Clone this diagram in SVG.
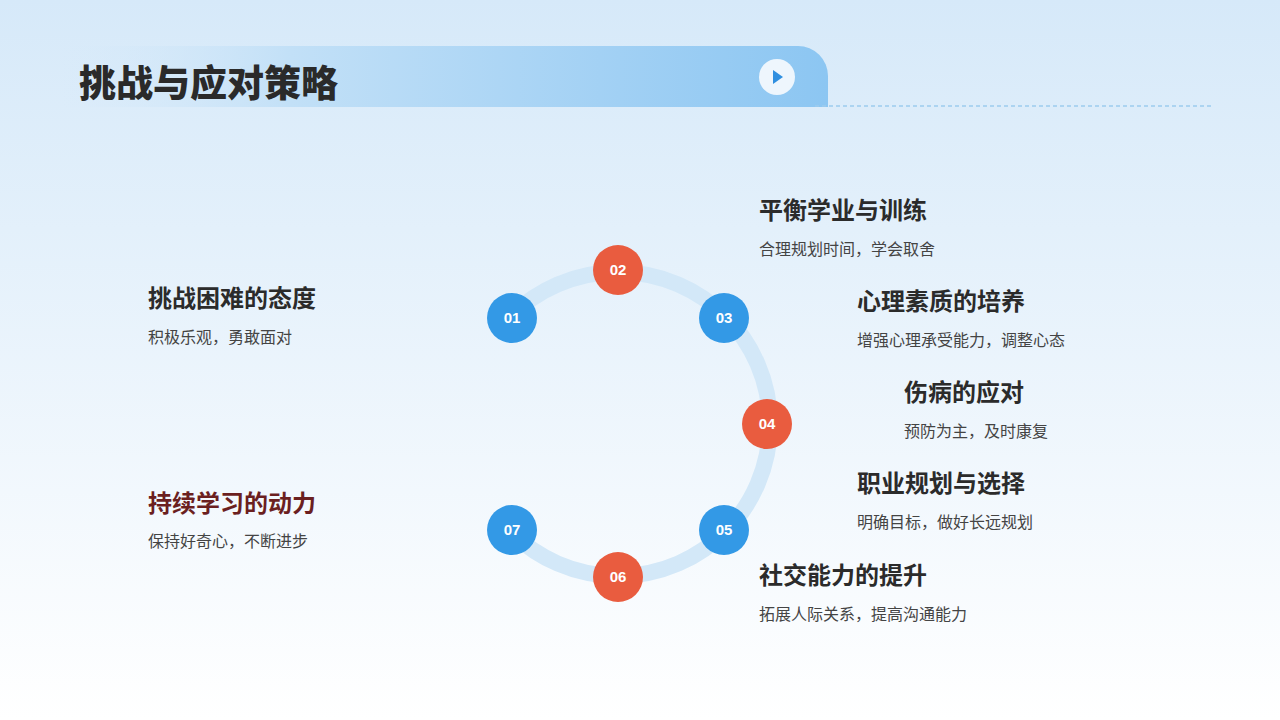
<svg xmlns="http://www.w3.org/2000/svg" width="1280" height="720" viewBox="0 0 1280 720">
<defs>
<linearGradient id="bg" x1="0" y1="0" x2="0" y2="1"><stop offset="0" stop-color="#d6e9f9"/><stop offset="1" stop-color="#ffffff"/></linearGradient>
<linearGradient id="band" x1="0" y1="0" x2="1" y2="0"><stop offset="0" stop-color="#d6e9f9" stop-opacity="0"/><stop offset="0.3" stop-color="#c2e0f7"/><stop offset="1" stop-color="#8cc6f2"/></linearGradient>
<style>
.t{font-family:"Noto Sans CJK SC","Liberation Sans",sans-serif;}
.h{font-size:24px;font-weight:700;fill:#2b2b2b;}
.s{font-size:16px;fill:#444;}
.n{font-family:"Liberation Sans",sans-serif;font-size:15px;font-weight:700;fill:#fff;text-anchor:middle;}
.b{fill:#3399e6;}
.r{fill:#e95c3f;}
</style>
</defs>
<rect width="1280" height="720" fill="url(#bg)"/>
<g id="header">
<path d="M60 46 H798 A30 30 0 0 1 828 76 V107 H60 Z" fill="url(#band)"/>
<line x1="815" y1="106" x2="1212" y2="106" stroke="#9ccbee" stroke-width="1.5" stroke-dasharray="4 3"/>
<circle cx="777" cy="77" r="18" fill="#eef6fd"/>
<path d="M773 70 L783 77 L773 84 Z" fill="#2f8fe0"/>
<text class="t" x="79" y="97" font-size="37" font-weight="900" fill="#2a2a2a">挑战与应对策略</text>
</g>
<g id="connectors">
<path d="M510.5 316.5 A152 152 0 1 1 510.5 531.5" fill="none" stroke="#d3e8f8" stroke-width="16"/>
</g>
<g id="n01"><circle cx="512" cy="318" r="25" class="b"/><text class="n" x="512" y="323">01</text>
<text class="t h" x="148" y="307">挑战困难的态度</text><text class="t s" x="148" y="343">积极乐观，勇敢面对</text></g>
<g id="n02"><circle cx="618" cy="270" r="25" class="r"/><text class="n" x="618" y="275">02</text>
<text class="t h" x="759" y="219">平衡学业与训练</text><text class="t s" x="759" y="255">合理规划时间，学会取舍</text></g>
<g id="n03"><circle cx="724" cy="318" r="25" class="b"/><text class="n" x="724" y="323">03</text>
<text class="t h" x="857" y="310">心理素质的培养</text><text class="t s" x="857" y="346">增强心理承受能力，调整心态</text></g>
<g id="n04"><circle cx="767" cy="424" r="25" class="r"/><text class="n" x="767" y="429">04</text>
<text class="t h" x="904" y="401">伤病的应对</text><text class="t s" x="904" y="437">预防为主，及时康复</text></g>
<g id="n05"><circle cx="724" cy="530" r="25" class="b"/><text class="n" x="724" y="535">05</text>
<text class="t h" x="857" y="492">职业规划与选择</text><text class="t s" x="857" y="528">明确目标，做好长远规划</text></g>
<g id="n06"><circle cx="618" cy="577" r="25" class="r"/><text class="n" x="618" y="582">06</text>
<text class="t h" x="759" y="584">社交能力的提升</text><text class="t s" x="759" y="620">拓展人际关系，提高沟通能力</text></g>
<g id="n07"><circle cx="512" cy="530" r="25" class="b"/><text class="n" x="512" y="535">07</text>
<text class="t h" x="148" y="512" style="fill:#6b1f1f">持续学习的动力</text><text class="t s" x="148" y="547">保持好奇心，不断进步</text></g>
</svg>
